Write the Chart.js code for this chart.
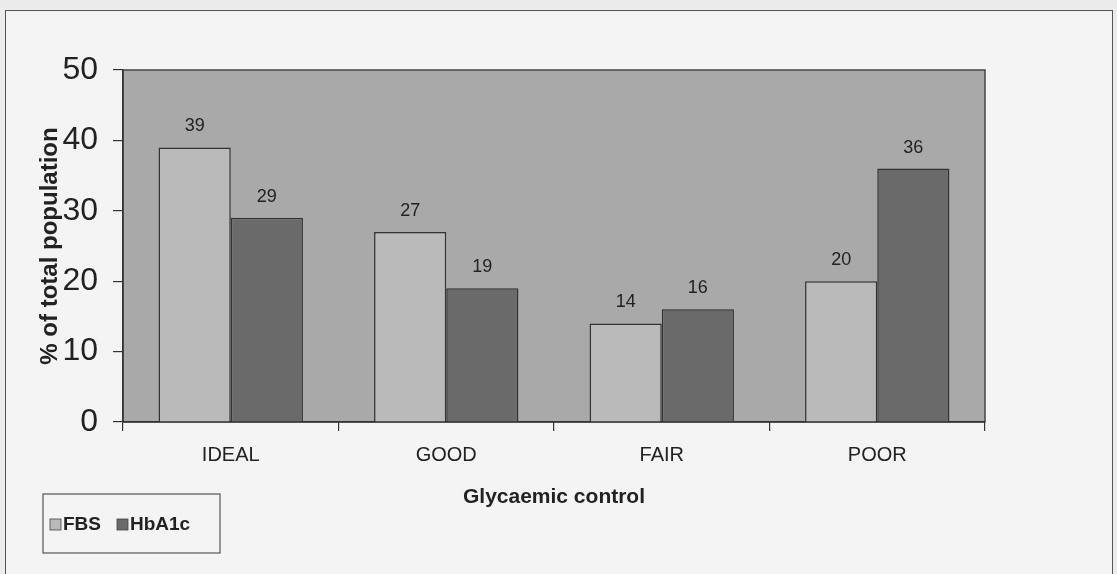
<!DOCTYPE html>
<html>
<head>
<meta charset="utf-8">
<script src="https://cdn.jsdelivr.net/npm/chart.js@4.4.0/dist/chart.umd.min.js"></script>
<style>
  body { margin: 0; background: #ececec; }
  #frame { position: absolute; left: 5px; top: 10px; width: 1106px; height: 580px;
           border: 1.5px solid #555; background: #f4f4f4; }
  #wrap { position: absolute; left: 0; top: 0; width: 1117px; height: 574px; }
</style>
</head>
<body>
<div id="frame"></div>
<div id="wrap"><canvas id="chart" width="1117" height="574"></canvas></div>
<script>
const categories = ['IDEAL', 'GOOD', 'FAIR', 'POOR'];
const fbs = [39, 27, 14, 20];
const hba1c = [29, 19, 16, 36];
const yTicks = [0, 10, 20, 30, 40, 50];

const FONT = "'Liberation Sans', Arial, sans-serif";
const INK = '#222';

// grey plot area with dark outline
const plotBg = {
    id: 'plotBg',
    beforeDraw(chart) {
        const a = chart.chartArea, ctx = chart.ctx;
        ctx.save();
        ctx.fillStyle = '#a9a9a9';
        ctx.fillRect(a.left, a.top, a.right - a.left, a.bottom - a.top);
        ctx.strokeStyle = '#444';
        ctx.lineWidth = 1.5;
        ctx.strokeRect(a.left, a.top, a.right - a.left, a.bottom - a.top);
        ctx.restore();
    }
};

// numbers above bars
const valueLabels = {
    id: 'valueLabels',
    afterDatasetsDraw(chart) {
        const ctx = chart.ctx;
        ctx.save();
        ctx.font = '18px ' + FONT;
        ctx.fillStyle = INK;
        ctx.textAlign = 'center';
        ctx.textBaseline = 'middle';
        chart.data.datasets.forEach((ds, i) => {
            chart.getDatasetMeta(i).data.forEach((bar, j) => {
                ctx.fillText(ds.data[j], bar.x, bar.y - 21);
            });
        });
        ctx.restore();
    }
};

// boxed legend at bottom left
const boxLegend = {
    id: 'boxLegend',
    afterDraw(chart) {
        const ctx = chart.ctx;
        ctx.save();
        ctx.strokeStyle = '#555';
        ctx.lineWidth = 1.2;
        ctx.strokeRect(43, 494, 177, 59);
        ctx.font = 'bold 19px ' + FONT;
        ctx.textBaseline = 'middle';
        let x = 50;
        const y = 525;
        chart.data.datasets.forEach(ds => {
            ctx.fillStyle = ds.backgroundColor;
            ctx.fillRect(x, y - 6, 11, 11);
            ctx.strokeStyle = '#444';
            ctx.lineWidth = 0.8;
            ctx.strokeRect(x, y - 6, 11, 11);
            ctx.fillStyle = INK;
            ctx.fillText(ds.label, x + 13, y);
            x += 13 + ctx.measureText(ds.label).width + 16;
        });
        ctx.restore();
    }
};

new Chart(document.getElementById('chart'), {
    type: 'bar',
    data: {
        labels: categories,
        datasets: [{
            label: 'FBS',
            data: fbs,
            backgroundColor: '#bababa',
            borderColor: '#333',
            borderWidth: 1.5
        }, {
            label: 'HbA1c',
            data: hba1c,
            backgroundColor: '#6a6a6a',
            borderColor: '#333',
            borderWidth: 1.5
        }]
    },
    options: {
        responsive: false,
        animation: false,
        layout: { padding: { left: 36, right: 132, top: 70, bottom: 60 } },
        datasets: { bar: { barPercentage: 1, categoryPercentage: 0.67 } },
        plugins: {
            legend: { display: false },
            tooltip: { enabled: false }
        },
        scales: {
            x: {
                afterFit(scale) { scale.height = 92; },
                grid: { drawOnChartArea: false, tickLength: 9, color: '#333', lineWidth: 1.2 },
                border: { color: '#333', width: 1.5 },
                ticks: { font: { family: FONT, size: 20 }, color: INK, padding: 12 },
                title: {
                    display: true,
                    text: 'Glycaemic control',
                    font: { family: FONT, size: 21, weight: 'bold' },
                    color: INK,
                    padding: { top: 4, bottom: 4 }
                }
            },
            y: {
                min: 0,
                max: 50,
                afterFit(scale) { scale.width = 87; },
                afterBuildTicks(scale) { scale.ticks = yTicks.map(v => ({ value: v })); },
                grid: { drawOnChartArea: false, tickLength: 10, color: '#333', lineWidth: 1.2 },
                border: { color: '#333', width: 1.5 },
                ticks: { font: { family: FONT, size: 32 }, color: INK, padding: 15 },
                title: {
                    display: true,
                    text: '% of total population',
                    font: { family: FONT, size: 24, weight: 'bold' },
                    color: INK,
                    padding: 0
                }
            }
        }
    },
    plugins: [plotBg, valueLabels, boxLegend]
});
</script>
</body>
</html>
